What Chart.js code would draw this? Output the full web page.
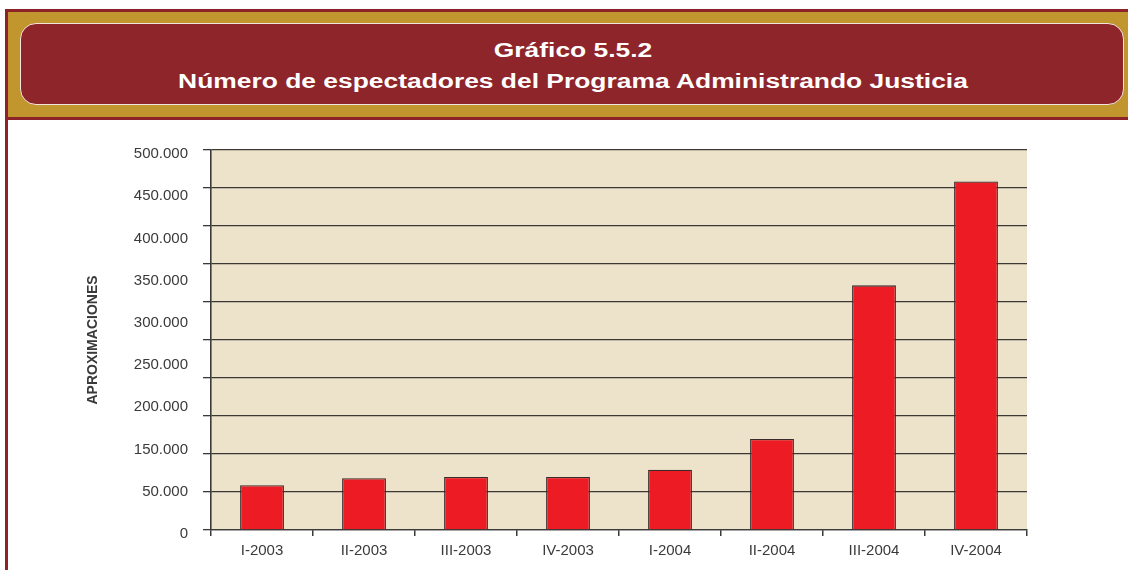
<!DOCTYPE html>
<html>
<head>
<meta charset="utf-8">
<script src="https://cdn.jsdelivr.net/npm/chart.js@4/dist/chart.umd.min.js"></script>
<style>
  html, body { margin: 0; padding: 0; background: #fff; width: 1128px; height: 570px; overflow: hidden; }
  #frame { position: absolute; left: 5px; top: 9px; width: 1123px; height: 561px; border-left: 3px solid #8c2329; border-top: 3px solid #8c2329; box-sizing: border-box; }
  #head { position: absolute; left: 8px; top: 12px; width: 1120px; height: 105px; background: #c1962f; border-bottom: 3px solid #8c2329; }
  #box { position: absolute; left: 20px; top: 23px; width: 1104px; height: 82px; background: #8e252b; border: 1.5px solid #f2e4da; border-radius: 16px; box-sizing: border-box; }
  .t { position: absolute; left: 0; width: 1104px; text-align: center; color: #fff; font: bold 20px "Liberation Sans", Arial, sans-serif; transform: scaleX(1.32); white-space: nowrap; }
  #wrap { position: absolute; left: 8px; top: 120px; width: 1120px; height: 450px; }
</style>
</head>
<body>
<div id="frame"></div>
<div id="head"></div>
<div id="box">
  <div class="t" style="top: 15px;">Gráfico 5.5.2</div>
  <div class="t" style="top: 46px;">Número de espectadores del Programa Administrando Justicia</div>
</div>
<div id="wrap"><canvas id="myChart"></canvas></div>
<script>
// Trimestres
const periodos = ["I-2003", "II-2003", "III-2003", "IV-2003", "I-2004", "II-2004", "III-2004", "IV-2004"];
// Espectadores aproximados
const espectadores = [59000, 68200, 69900, 69900, 79200, 119700, 321900, 458700];
// Etiquetas del eje Y tal como aparecen (de arriba hacia abajo)
const etiquetasY = ["500.000", "450.000", "400.000", "350.000", "300.000", "250.000", "200.000", "150.000", "50.000", "0"];

Chart.defaults.font.family = "'Liberation Sans', Arial, sans-serif";
Chart.defaults.color = "#3a3a3a";

// Fondo beige del área de trazado
const fondoArea = {
  id: "fondoArea",
  beforeDraw(chart) {
    const { ctx, chartArea: a } = chart;
    ctx.save();
    ctx.fillStyle = "#ede3cb";
    ctx.fillRect(a.left, a.top, a.right - a.left, a.bottom - a.top);
    ctx.restore();
  },
};

let ctx = document.getElementById("myChart").getContext("2d");
new Chart(ctx, {
  type: "bar",
  data: {
    labels: periodos,
    datasets: [
      {
        data: espectadores,
        backgroundColor: "#ed1c24",
        borderColor: "#3a2a2a",
        borderWidth: 1.3,
        barPercentage: 0.43,
        categoryPercentage: 1,
      },
    ],
  },
  plugins: [fondoArea],
  options: {
    responsive: true,
    maintainAspectRatio: false,
    animation: false,
    layout: { padding: { left: 77, right: 101, top: 30, bottom: 4 } },
    plugins: {
      legend: { display: false },
      tooltip: { enabled: false },
    },
    scales: {
      x: {
        offset: true,
        grid: {
          offset: true,
          color: (c) => (c.index === 0 || c.index === periodos.length ? "#5a554f" : "rgba(0,0,0,0)"),
          tickColor: "#3a3a3a",
          tickLength: 6,
          lineWidth: 1.5,
        },
        border: { color: "#3a3a3a", width: 1.3 },
        ticks: { font: { size: 15 }, padding: 6, color: "#3a3a3a" },
      },
      y: {
        position: "left",
        weight: 0,
        min: 0,
        max: 500000,
        ticks: { stepSize: 50000, display: false },
        grid: { color: "#3c3833", tickColor: "#3a3a3a", tickLength: 8, lineWidth: 1.3 },
        border: { color: "#3a3a3a", width: 1.3 },
      },
      yEtiquetas: {
        type: "category",
        position: "left",
        weight: 1,
        labels: etiquetasY,
        offset: false,
        grid: { display: false, drawTicks: false },
        border: { display: false },
        ticks: { font: { size: 15 }, padding: 15, labelOffset: 4, color: "#3a3a3a" },
        title: {
          display: true,
          text: "APROXIMACIONES",
          font: { size: 14, weight: "bold" },
          color: "#3a3a3a",
          padding: { top: 0, bottom: 17 },
        },
      },
    },
  },
});
</script>
</body>
</html>
